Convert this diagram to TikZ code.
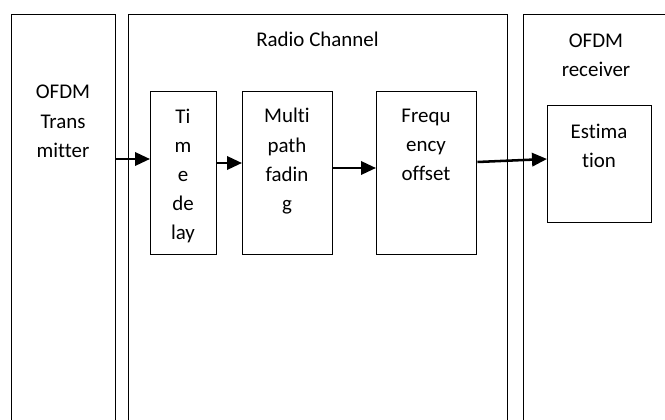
\documentclass[tikz,border=0pt]{standalone}
\usepackage{fontspec}
\setmainfont{Carlito}[Ligatures=NoCommon]
\usetikzlibrary{arrows.meta}
\begin{document}
\begin{tikzpicture}[x=0.75pt,y=-0.75pt,
  frame/.style={draw=black,line width=1.1pt,rectangle,inner sep=0pt,anchor=north west},
  lbl/.style={align=center,anchor=north,inner sep=0pt,font=\fontsize{15.7}{21.9}\selectfont},
  arr/.style={line width=1.9pt,-{Triangle[length=11.25pt,width=10pt]}}]
\useasboundingbox (0,0) rectangle (665,420);
% outer regions (open at the bottom of the page)
\node[frame,minimum width=104*0.75pt,minimum height=420*0.75pt] (tx) at (11,14) {};
\node[frame,minimum width=379*0.75pt,minimum height=420*0.75pt] (ch) at (128,14) {};
\node[frame,minimum width=160*0.75pt,minimum height=420*0.75pt] (rx) at (523,14) {};
% inner blocks
\node[frame,minimum width=66*0.75pt,minimum height=163*0.75pt] (td) at (150,91) {};
\node[frame,minimum width=90*0.75pt,minimum height=163*0.75pt] (mp) at (242,91) {};
\node[frame,minimum width=100*0.75pt,minimum height=163*0.75pt] (fo) at (376,91) {};
\node[frame,minimum width=104*0.75pt,minimum height=117*0.75pt] (es) at (547,105) {};
% labels
\node[lbl] (txl) at (63,85) {OFDM\\Trans\\mitter};
\node[lbl] (chl) at (317.5,32.2) {Radio Channel};
\node[lbl] (rxl) at (596,33.4) {OFDM\\receiver};
\node[lbl] (tdl) at (183,108.5) {Ti\\m\\e\\de\\lay};
\node[lbl] (mpl) at (287,108.2) {Multi\\path\\fadin\\g};
\node[lbl] (fol) at (426,108.4) {Frequ\\ency\\offset};
\node[lbl] (esl) at (599,123.4) {Estima\\tion};
% connectors
\coordinate (y1) at (0,159);
\coordinate (y2) at (0,163);
\coordinate (y3) at (0,168);
\coordinate (y4) at (0,162);
\coordinate (y5) at (0,159);
\draw[arr] (tx.east |- y1) -- (td.west |- y1);
\draw[arr] (td.east |- y2) -- (mp.west |- y2);
\draw[arr] (mp.east |- y3) -- (fo.west |- y3);
\draw[arr] (fo.east |- y4) -- (es.west |- y5);
\end{tikzpicture}
\end{document}
